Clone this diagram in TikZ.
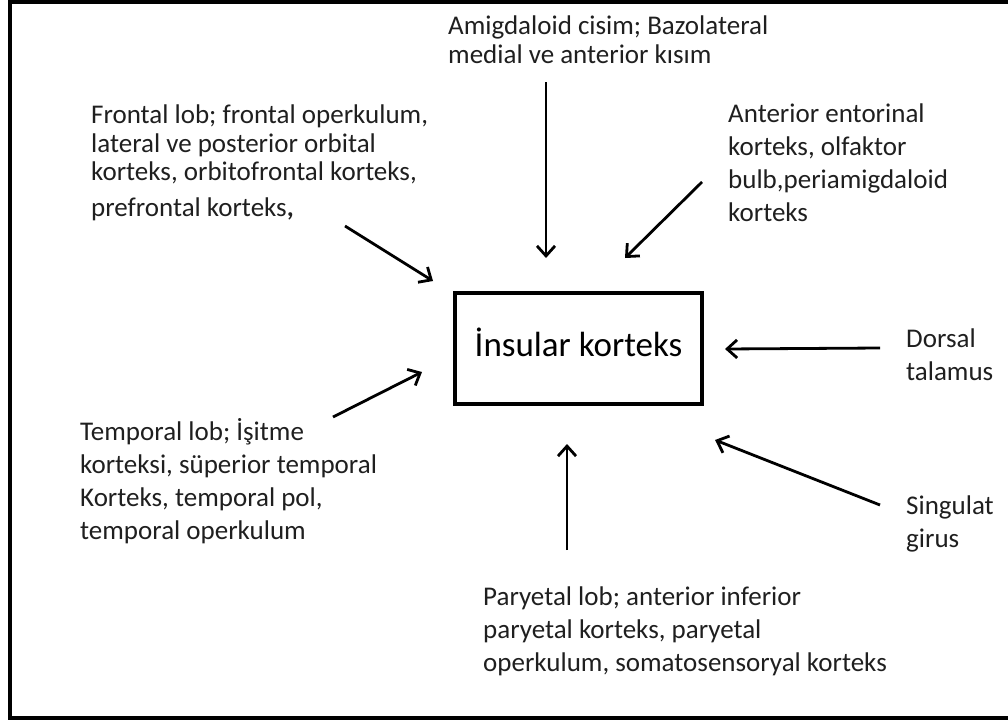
\documentclass[tikz,border=0pt]{standalone}
\usepackage{fontspec}
\setmainfont{Carlito}
\usetikzlibrary{positioning}
\usetikzlibrary{arrows.meta}

\begin{document}
\begin{tikzpicture}[x=1pt,y=-1pt,
  lbl/.style={anchor=north west,inner sep=0pt,align=left,text=black!88,font=\fontsize{27}{33}\selectfont},
  hub/.style={draw,line width=3.5pt,inner sep=0pt,minimum width=247pt,minimum height=111pt,
    font=\fontsize{35}{42}\selectfont,text height=15pt,text depth=0pt},
  link/.style={line width=2.8pt,-{Straight Barb[length=10pt,width=18pt]}}]
 \useasboundingbox (0,0) rectangle (1008,720);
 \draw[line width=4pt] (10,2) rectangle (1016,718);
 \node[hub] (insula) at (578.5,348.5) {İnsular korteks};
 % bolgeler
 \node[lbl,font=\fontsize{27}{29}\selectfont] (amig) at (448,16)
  {Amigdaloid cisim; Bazolateral\\medial ve anterior kısım};
 \node[lbl,font=\fontsize{27}{28.5}\selectfont] (front) at (91,105)
  {Frontal lob; frontal operkulum,\\lateral ve posterior orbital\\korteks, orbitofrontal korteks,\\[7pt]prefrontal korteks\textbf{,}};
 \node[lbl] (ento) at (728,104)
  {Anterior entorinal\\korteks, olfaktor\\bulb,periamigdaloid\\korteks};
 \node[lbl] (dors) at (906,329) {Dorsal\\talamus};
 \node[lbl] (sing) at (906,496) {Singulat\\girus};
 \node[lbl] (temp) at (80,418)
  {Temporal lob; İşitme\\korteksi, süperior temporal\\Korteks, temporal pol,\\temporal operkulum};
 \node[lbl] (pary) at (483,587)
  {Paryetal lob; anterior inferior\\paryetal korteks, paryetal\\operkulum, somatosensoryal korteks};
 % ok uclari
 \coordinate (amig-a) at (546,82);  \coordinate (amig-b) at (546,258);
 \coordinate (ento-a) at (702,182); \coordinate (ento-b) at (625,258);
 \coordinate (front-a) at (345,226); \coordinate (front-b) at (433,281);
 \coordinate (temp-a) at (333,417); \coordinate (temp-b) at (422,372);
 \coordinate (dors-a) at (880,348); \coordinate (dors-b) at (725,349);
 \coordinate (sing-a) at (880,505); \coordinate (sing-b) at (715,440);
 \coordinate (pary-a) at (567,550); \coordinate (pary-b) at (567,444);
 \foreach \s in {amig,ento,front,temp,dors,sing,pary}
  \draw[link] (\s-a)--(\s-b);
\end{tikzpicture}
\end{document}
